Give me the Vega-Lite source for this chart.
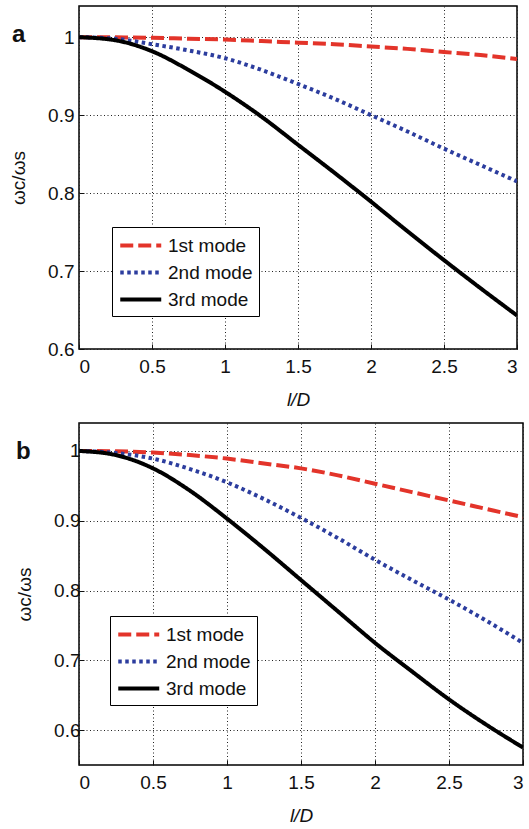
{
  "$schema": "https://vega.github.io/schema/vega-lite/v6.json",
  "background": "white",
  "padding": {"left": 8, "top": 5, "right": 5, "bottom": 5},
  "config": {
    "font": "Liberation Sans",
    "view": {"stroke": "black", "strokeWidth": 1.5},
    "axis": {
      "labelFont": "Liberation Sans",
      "labelFontSize": 19,
      "labelColor": "#111",
      "titleFont": "Liberation Sans",
      "titleFontSize": 19,
      "titleFontWeight": "normal",
      "titleColor": "#111",
      "grid": true,
      "gridColor": "#222",
      "gridDash": [1, 2.5],
      "gridWidth": 1,
      "gridOpacity": 1,
      "domain": false,
      "ticks": true,
      "tickColor": "#111",
      "tickSize": -5,
      "tickWidth": 1
    },
    "legend": {
      "labelFont": "Liberation Sans",
      "labelFontSize": 19,
      "labelColor": "#111",
      "symbolType": "M-1,0H3",
      "symbolSize": 420,
      "symbolStrokeWidth": 4,
      "padding": 6,
      "rowPadding": 4,
      "labelOffset": 25,
      "strokeColor": "black",
      "fillColor": "white",
      "cornerRadius": 0
    },
    "title": {"font": "Liberation Sans", "fontSize": 24, "fontWeight": "bold", "anchor": "start", "frame": "group", "color": "#111"}
  },
  "data": {
    "values": [
      {"panel": "a", "mode": "1st mode", "l": 0, "r": 1.0},
      {"panel": "a", "mode": "1st mode", "l": 0.25, "r": 0.9998},
      {"panel": "a", "mode": "1st mode", "l": 0.5, "r": 0.9992},
      {"panel": "a", "mode": "1st mode", "l": 0.75, "r": 0.998},
      {"panel": "a", "mode": "1st mode", "l": 1, "r": 0.997},
      {"panel": "a", "mode": "1st mode", "l": 1.25, "r": 0.995},
      {"panel": "a", "mode": "1st mode", "l": 1.5, "r": 0.993},
      {"panel": "a", "mode": "1st mode", "l": 1.75, "r": 0.991},
      {"panel": "a", "mode": "1st mode", "l": 2, "r": 0.988},
      {"panel": "a", "mode": "1st mode", "l": 2.25, "r": 0.985},
      {"panel": "a", "mode": "1st mode", "l": 2.5, "r": 0.981},
      {"panel": "a", "mode": "1st mode", "l": 2.75, "r": 0.977},
      {"panel": "a", "mode": "1st mode", "l": 3, "r": 0.972},
      {"panel": "a", "mode": "2nd mode", "l": 0, "r": 1.0},
      {"panel": "a", "mode": "2nd mode", "l": 0.25, "r": 0.998},
      {"panel": "a", "mode": "2nd mode", "l": 0.5, "r": 0.991},
      {"panel": "a", "mode": "2nd mode", "l": 0.75, "r": 0.983},
      {"panel": "a", "mode": "2nd mode", "l": 1, "r": 0.973},
      {"panel": "a", "mode": "2nd mode", "l": 1.25, "r": 0.958},
      {"panel": "a", "mode": "2nd mode", "l": 1.5, "r": 0.94},
      {"panel": "a", "mode": "2nd mode", "l": 1.75, "r": 0.921},
      {"panel": "a", "mode": "2nd mode", "l": 2, "r": 0.9},
      {"panel": "a", "mode": "2nd mode", "l": 2.25, "r": 0.879},
      {"panel": "a", "mode": "2nd mode", "l": 2.5, "r": 0.857},
      {"panel": "a", "mode": "2nd mode", "l": 2.75, "r": 0.836},
      {"panel": "a", "mode": "2nd mode", "l": 3, "r": 0.815},
      {"panel": "a", "mode": "3rd mode", "l": 0, "r": 1.0},
      {"panel": "a", "mode": "3rd mode", "l": 0.25, "r": 0.996},
      {"panel": "a", "mode": "3rd mode", "l": 0.5, "r": 0.982},
      {"panel": "a", "mode": "3rd mode", "l": 0.75, "r": 0.958},
      {"panel": "a", "mode": "3rd mode", "l": 1, "r": 0.93},
      {"panel": "a", "mode": "3rd mode", "l": 1.25, "r": 0.898},
      {"panel": "a", "mode": "3rd mode", "l": 1.5, "r": 0.862},
      {"panel": "a", "mode": "3rd mode", "l": 1.75, "r": 0.826},
      {"panel": "a", "mode": "3rd mode", "l": 2, "r": 0.789},
      {"panel": "a", "mode": "3rd mode", "l": 2.25, "r": 0.751},
      {"panel": "a", "mode": "3rd mode", "l": 2.5, "r": 0.714},
      {"panel": "a", "mode": "3rd mode", "l": 2.75, "r": 0.678},
      {"panel": "a", "mode": "3rd mode", "l": 3, "r": 0.643},
      {"panel": "b", "mode": "1st mode", "l": 0, "r": 1.0},
      {"panel": "b", "mode": "1st mode", "l": 0.25, "r": 0.9995},
      {"panel": "b", "mode": "1st mode", "l": 0.5, "r": 0.9976},
      {"panel": "b", "mode": "1st mode", "l": 0.75, "r": 0.994},
      {"panel": "b", "mode": "1st mode", "l": 1, "r": 0.989},
      {"panel": "b", "mode": "1st mode", "l": 1.25, "r": 0.982},
      {"panel": "b", "mode": "1st mode", "l": 1.5, "r": 0.975},
      {"panel": "b", "mode": "1st mode", "l": 1.75, "r": 0.965},
      {"panel": "b", "mode": "1st mode", "l": 2, "r": 0.953},
      {"panel": "b", "mode": "1st mode", "l": 2.25, "r": 0.941},
      {"panel": "b", "mode": "1st mode", "l": 2.5, "r": 0.929},
      {"panel": "b", "mode": "1st mode", "l": 2.75, "r": 0.917},
      {"panel": "b", "mode": "1st mode", "l": 3, "r": 0.905},
      {"panel": "b", "mode": "2nd mode", "l": 0, "r": 1.0},
      {"panel": "b", "mode": "2nd mode", "l": 0.25, "r": 0.997},
      {"panel": "b", "mode": "2nd mode", "l": 0.5, "r": 0.989},
      {"panel": "b", "mode": "2nd mode", "l": 0.75, "r": 0.974},
      {"panel": "b", "mode": "2nd mode", "l": 1, "r": 0.955},
      {"panel": "b", "mode": "2nd mode", "l": 1.25, "r": 0.931},
      {"panel": "b", "mode": "2nd mode", "l": 1.5, "r": 0.904},
      {"panel": "b", "mode": "2nd mode", "l": 1.75, "r": 0.875},
      {"panel": "b", "mode": "2nd mode", "l": 2, "r": 0.844},
      {"panel": "b", "mode": "2nd mode", "l": 2.25, "r": 0.815},
      {"panel": "b", "mode": "2nd mode", "l": 2.5, "r": 0.787},
      {"panel": "b", "mode": "2nd mode", "l": 2.75, "r": 0.757},
      {"panel": "b", "mode": "2nd mode", "l": 3, "r": 0.725},
      {"panel": "b", "mode": "3rd mode", "l": 0, "r": 1.0},
      {"panel": "b", "mode": "3rd mode", "l": 0.25, "r": 0.994},
      {"panel": "b", "mode": "3rd mode", "l": 0.5, "r": 0.975},
      {"panel": "b", "mode": "3rd mode", "l": 0.75, "r": 0.943},
      {"panel": "b", "mode": "3rd mode", "l": 1, "r": 0.903},
      {"panel": "b", "mode": "3rd mode", "l": 1.25, "r": 0.86},
      {"panel": "b", "mode": "3rd mode", "l": 1.5, "r": 0.815},
      {"panel": "b", "mode": "3rd mode", "l": 1.75, "r": 0.77},
      {"panel": "b", "mode": "3rd mode", "l": 2, "r": 0.725},
      {"panel": "b", "mode": "3rd mode", "l": 2.25, "r": 0.684},
      {"panel": "b", "mode": "3rd mode", "l": 2.5, "r": 0.644},
      {"panel": "b", "mode": "3rd mode", "l": 2.75, "r": 0.608},
      {"panel": "b", "mode": "3rd mode", "l": 3, "r": 0.575}
    ]
  },
  "columns": 1,
  "align": "none",
  "spacing": 12,
  "resolve": {
    "scale": {"y": "independent", "x": "independent", "color": "independent", "strokeDash": "independent"},
    "legend": {"color": "independent", "strokeDash": "independent"}
  },
  "concat": [
    {
      "title": {"text": "a", "dx": -67, "dy": 45},
      "width": 438,
      "height": 343,
      "transform": [{"filter": "datum.panel === 'a'"}],
      "mark": {"type": "line", "strokeWidth": 4, "clip": true, "interpolate": "monotone"},
      "encoding": {
        "x": {"field": "l", "type": "quantitative", "scale": {"domain": [0, 3], "nice": false}, "axis": {"values": [0, 0.5, 1, 1.5, 2, 2.5, 3], "format": ".1~f", "title": "l/D", "titleFontStyle": "italic", "labelPadding": 13, "titlePadding": 14}},
        "y": {"field": "r", "type": "quantitative", "scale": {"domain": [0.6, 1.04], "nice": false, "zero": false}, "axis": {"values": [0.6, 0.7, 0.8, 0.9, 1], "format": ".1~f", "title": "ωc/ωs", "labelPadding": 10, "titlePadding": 19}},
        "color": {"field": "mode", "type": "nominal", "scale": {"domain": ["1st mode", "2nd mode", "3rd mode"], "range": ["#e3342a", "#2c3d9e", "#000000"]}, "legend": {"title": null, "orient": "none", "legendX": 33, "legendY": 221}},
        "strokeDash": {"field": "mode", "type": "nominal", "scale": {"domain": ["1st mode", "2nd mode", "3rd mode"], "range": [[13, 5], [3.5, 3.5], [1, 0]]}, "legend": {"title": null, "orient": "none", "legendX": 33, "legendY": 221}}
      }
    },
    {
      "title": {"text": "b", "dx": -63, "dy": 45},
      "width": 444,
      "height": 342,
      "transform": [{"filter": "datum.panel === 'b'"}],
      "mark": {"type": "line", "strokeWidth": 4, "clip": true, "interpolate": "monotone"},
      "encoding": {
        "x": {"field": "l", "type": "quantitative", "scale": {"domain": [0, 3], "nice": false}, "axis": {"values": [0, 0.5, 1, 1.5, 2, 2.5, 3], "format": ".1~f", "title": "l/D", "titleFontStyle": "italic", "labelPadding": 13, "titlePadding": 14}},
        "y": {"field": "r", "type": "quantitative", "scale": {"domain": [0.55, 1.04], "nice": false, "zero": false}, "axis": {"values": [0.6, 0.7, 0.8, 0.9, 1], "format": ".1~f", "title": "ωc/ωs", "labelPadding": 4, "titlePadding": 19}},
        "color": {"field": "mode", "type": "nominal", "scale": {"domain": ["1st mode", "2nd mode", "3rd mode"], "range": ["#e3342a", "#2c3d9e", "#000000"]}, "legend": {"title": null, "orient": "none", "legendX": 31, "legendY": 193}},
        "strokeDash": {"field": "mode", "type": "nominal", "scale": {"domain": ["1st mode", "2nd mode", "3rd mode"], "range": [[13, 5], [3.5, 3.5], [1, 0]]}, "legend": {"title": null, "orient": "none", "legendX": 31, "legendY": 193}}
      }
    }
  ]
}
